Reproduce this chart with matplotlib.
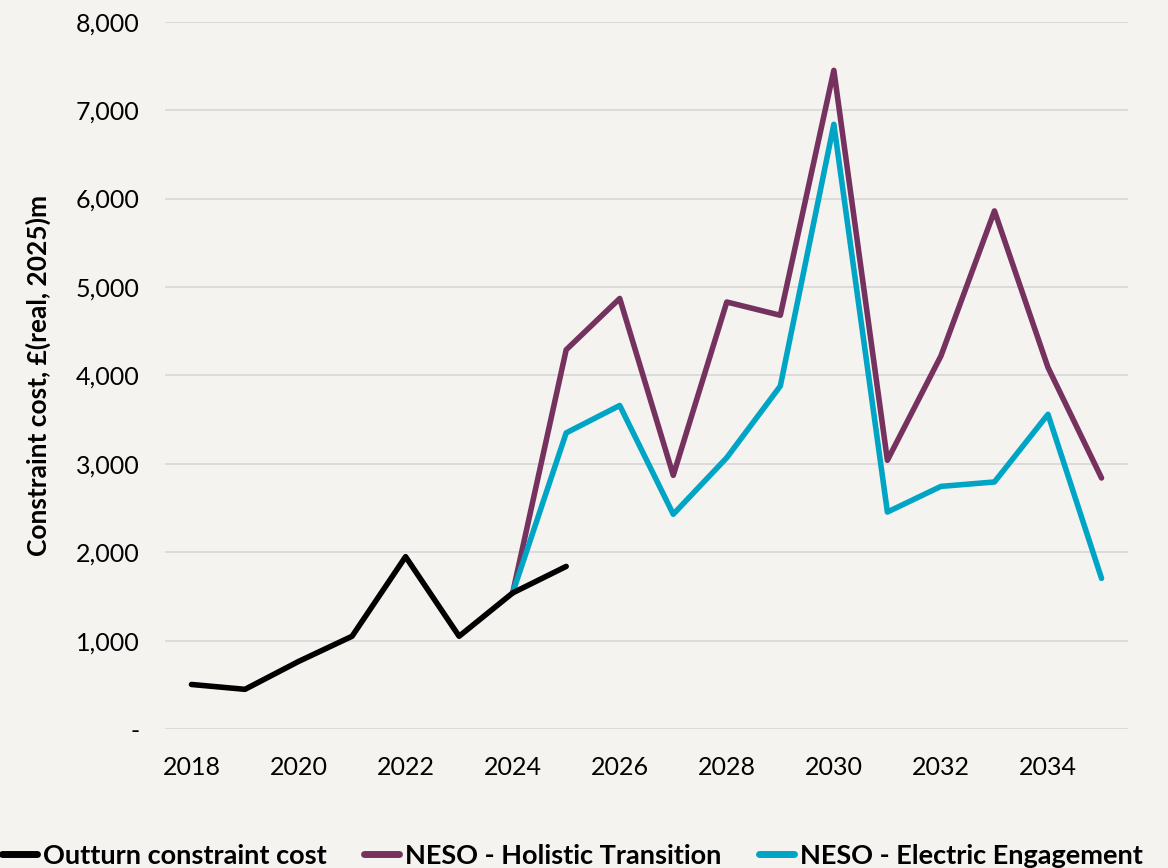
import matplotlib.pyplot as plt
from matplotlib.ticker import FuncFormatter

plt.rcParams['font.family'] = ['Lato', 'DejaVu Sans']

years_outturn = [2018, 2019, 2020, 2021, 2022, 2023, 2024, 2025]
outturn = [505, 450, 765, 1050, 1950, 1050, 1540, 1840]

years_neso = list(range(2024, 2036))
holistic = [1540, 4290, 4870, 2870, 4830, 4680, 7450, 3040, 4220, 5860, 4090, 2840]
electric = [1540, 3350, 3660, 2430, 3070, 3880, 6840, 2455, 2745, 2795, 3560, 1705]

bg = '#F4F3F0'
fig = plt.figure(figsize=(11.68, 8.68), dpi=100, facecolor=bg)
ax = fig.add_axes([0.141, 0.160, 0.825, 0.815], facecolor=bg)

ax.plot(years_outturn, outturn, color='black', linewidth=4, label='Outturn constraint cost', solid_capstyle='round', zorder=3)
ax.plot(years_neso, holistic, color='#76325F', linewidth=4, label='NESO - Holistic Transition', solid_capstyle='round', zorder=2)
ax.plot(years_neso, electric, color='#00A5C5', linewidth=4, label='NESO - Electric Engagement', solid_capstyle='round', zorder=2)

ax.set_xlim(2017.5, 2035.5)
ax.set_ylim(0, 8000)
ax.set_xticks(range(2018, 2035, 2))
ax.set_yticks(range(0, 8001, 1000))
ax.yaxis.set_major_formatter(FuncFormatter(lambda v, p: '-' if v == 0 else f'{int(v):,}'))
ax.tick_params(length=0, labelsize=18)
ax.tick_params(axis='x', pad=19)
ax.tick_params(axis='y', pad=18)
ax.grid(axis='y', color='#D9D9D9', linewidth=1.3)
ax.set_axisbelow(True)
for s in ax.spines.values():
    s.set_visible(False)

ax.set_ylabel('Constraint cost, £(real, 2025)m', fontsize=19, fontweight='bold', labelpad=18)

leg = fig.legend(loc='lower center', bbox_to_anchor=(0.49, -0.028), ncol=3, frameon=False,
                 prop={'size': 19.5, 'weight': 'bold'}, handlelength=1.3, columnspacing=1.4,
                 handletextpad=0.2)
for line in leg.get_lines():
    line.set_linewidth(5)

fig.savefig('out.png', dpi=100, facecolor=bg)
